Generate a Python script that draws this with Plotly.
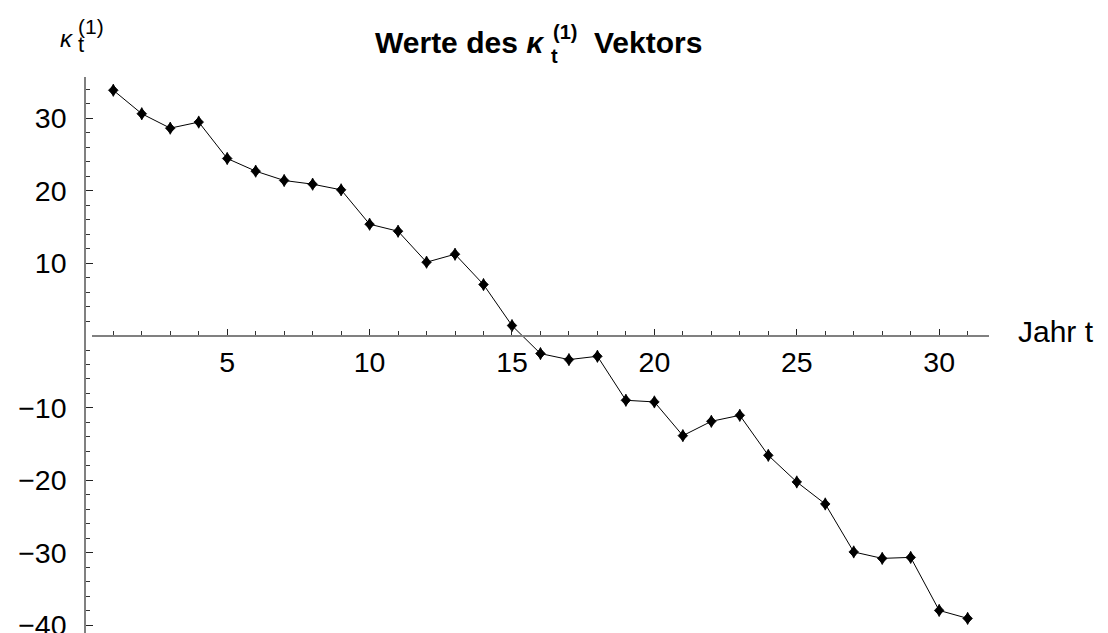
import plotly.graph_objects as go

# ---- data ----
years = list(range(1, 32))
kappa = [33.9, 30.65, 28.66, 29.5, 24.47, 22.72, 21.43, 20.92, 20.14, 15.39,
         14.42, 10.14, 11.24, 7.05, 1.38, -2.49, -3.32, -2.86, -8.94, -9.17,
         -13.83, -11.85, -11.02, -16.55, -20.23, -23.27, -29.9, -30.79, -30.65,
         -37.98, -39.08]
x_ticks = [5, 10, 15, 20, 25, 30]
y_ticks = [30, 20, 10, -10, -20, -30, -40]
x_minor = [v for v in range(1, 32) if v % 5 != 0]
y_minor = [v for v in range(-40, 35, 2) if v % 10 != 0]
x_range = [0.242, 31.75]
y_range = [-41.1, 35.73]

W, H = 1108, 633
L, R, T, B = 85, 119, 77.3, 0
PW, PH = W - L - R, H - T - B

def px(x):
    return (x - L) / PW

def py(y):
    return (H - B - y) / PH

FONT = "Liberation Sans, Arial, sans-serif"

fig = go.Figure()
fig.add_trace(go.Scatter(
    x=years, y=kappa, mode="lines+markers",
    line=dict(color="black", width=1),
    marker=dict(symbol="diamond-tall", size=8.8, color="black",
                line=dict(color="black", width=0.8)),
    showlegend=False, cliponaxis=False,
))
fig.add_trace(go.Scatter(
    x=years, y=kappa, mode="markers",
    marker=dict(symbol="diamond", size=7.4, color="black",
                line=dict(color="black", width=0.8)),
    showlegend=False, cliponaxis=False,
))

x0_pos = (0 - y_range[0]) / (y_range[1] - y_range[0])

fig.update_layout(
    width=W, height=H,
    margin=dict(l=L, r=R, t=T, b=B, autoexpand=False),
    plot_bgcolor="white", paper_bgcolor="white",
    font=dict(family=FONT, color="black"),
    xaxis=dict(
        range=x_range, domain=[(91.7 - L) / PW, 1],
        anchor="free", position=x0_pos,
        showgrid=False, zeroline=False,
        showline=True, linecolor="#808080", linewidth=1.5,
        tickmode="array", tickvals=x_ticks, ticktext=[str(v) for v in x_ticks],
        ticks="inside", ticklen=6, tickwidth=1.2, tickcolor="#222222",
        tickfont=dict(size=28.5, family=FONT, color="black"),
        ticklabelstandoff=1, ticklabeloverflow="allow",
        minor=dict(tickmode="array", tickvals=x_minor, ticks="inside",
                   ticklen=3.5, tickwidth=1, tickcolor="#333333"),
    ),
    yaxis=dict(
        range=y_range, domain=[0, 1],
        anchor="free", position=0,
        showgrid=False, zeroline=False,
        showline=True, linecolor="#808080", linewidth=1.5,
        tickmode="array", tickvals=y_ticks,
        ticktext=[str(v).replace("-", "\u2212") for v in y_ticks],
        ticks="inside", ticklen=7, tickwidth=1.2, tickcolor="#222222",
        tickfont=dict(size=28.5, family=FONT, color="black"),
        ticklabelstandoff=12, ticklabeloverflow="allow",
        minor=dict(tickmode="array", tickvals=y_minor, ticks="inside",
                   ticklen=4, tickwidth=1, tickcolor="#333333"),
    ),
)

ann = []
# title pieces
ann.append(dict(text="<b>Werte des <i>κ</i></b>", x=px(547), y=py(43),
                xanchor="right", yanchor="middle", font=dict(size=30)))
ann.append(dict(text="<b>t</b>", x=px(549), y=py(56),
                xanchor="left", yanchor="middle", font=dict(size=20)))
ann.append(dict(text="<b>(1)</b>", x=px(551), y=py(32),
                xanchor="left", yanchor="middle", font=dict(size=20)))
ann.append(dict(text="<b>Vektors</b>", x=px(592), y=py(43),
                xanchor="left", yanchor="middle", font=dict(size=30)))
# y axis label
ann.append(dict(text="<i>κ</i>", x=px(76), y=py(39),
                xanchor="right", yanchor="middle", font=dict(size=24)))
ann.append(dict(text="t", x=px(75.5), y=py(45),
                xanchor="left", yanchor="middle", font=dict(size=22)))
ann.append(dict(text="(1)", x=px(76), y=py(27),
                xanchor="left", yanchor="middle", font=dict(size=21)))
# x axis label
ann.append(dict(text="Jahr t", x=px(1016), y=py(332),
                xanchor="left", yanchor="middle", font=dict(size=30)))

for a in ann:
    a.update(xref="paper", yref="paper", showarrow=False)
    a["font"].update(family=FONT, color="black")
fig.update_layout(annotations=ann)

fig.write_html("out.html",
               config={"displayModeBar": False},
               post_script="document.body.style.margin='0';"
                           "document.body.style.overflow='hidden';")
